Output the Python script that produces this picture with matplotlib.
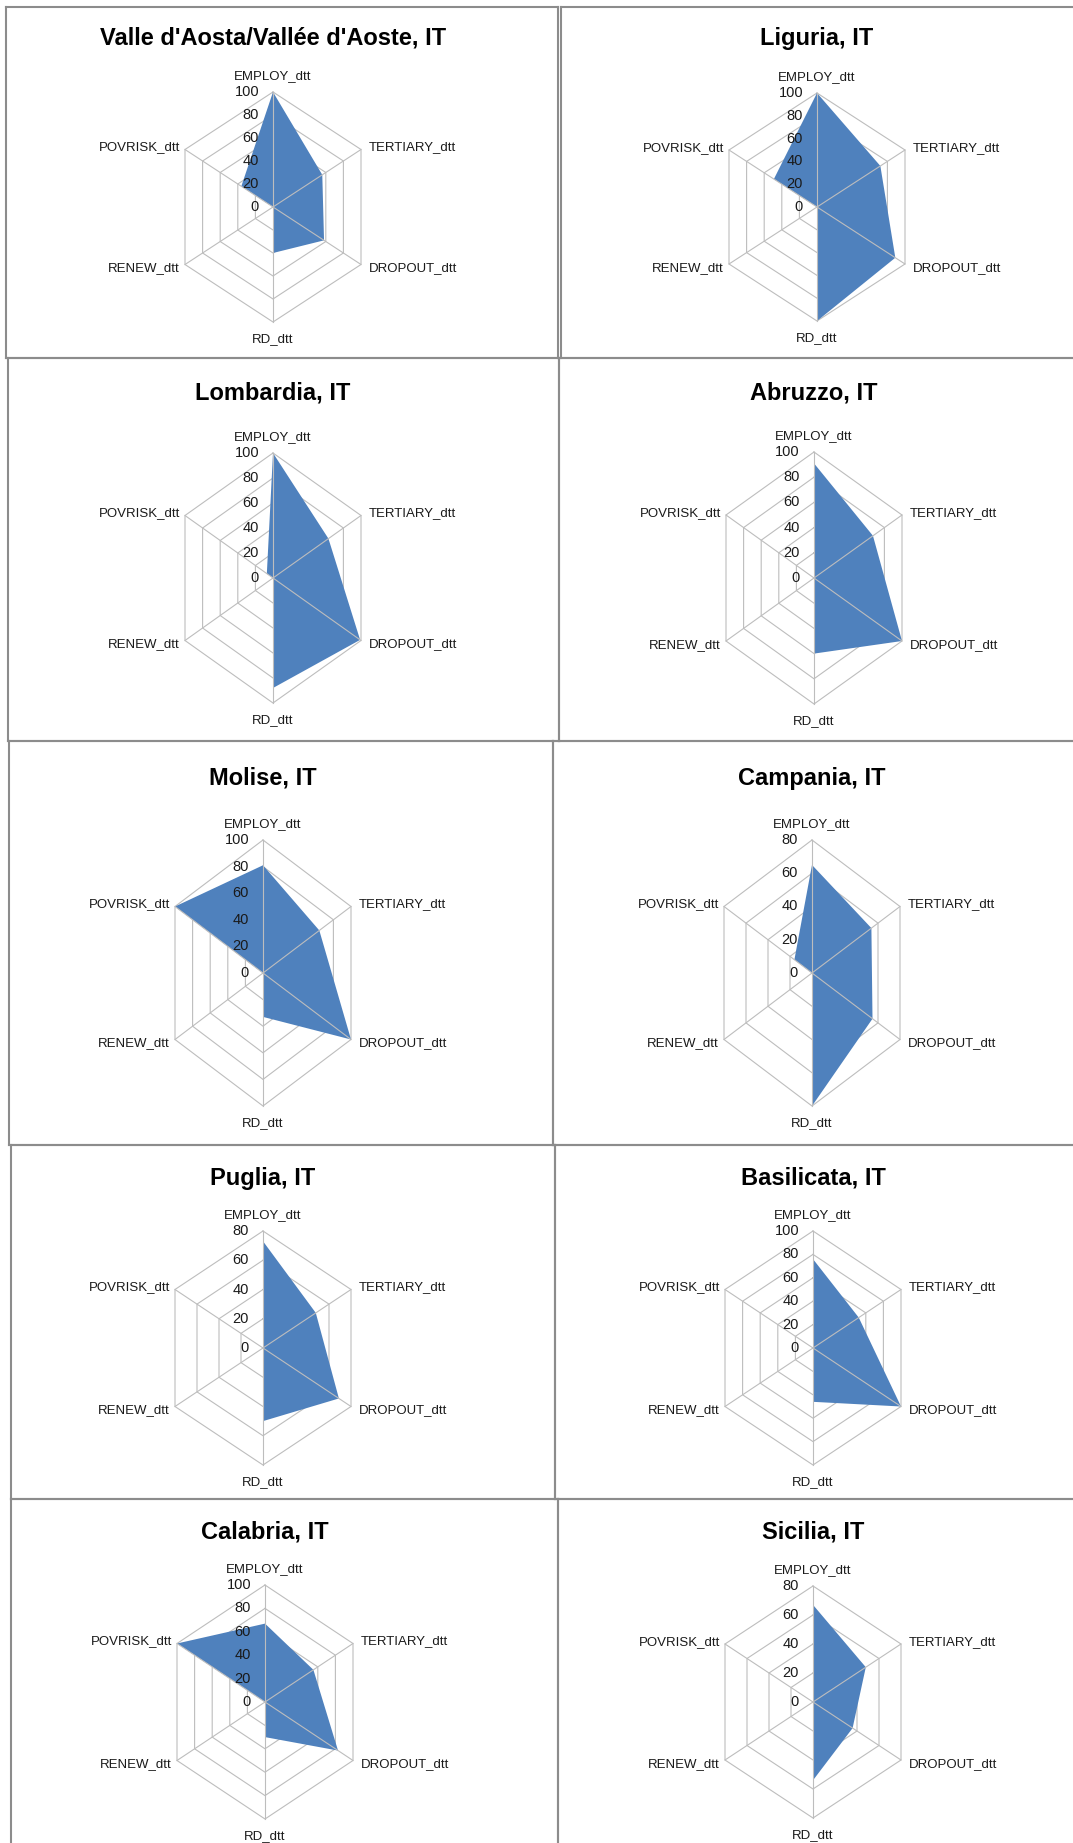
"""Radar charts of six regional indicators for ten Italian regions."""

import matplotlib.pyplot as plt
import numpy as np
from matplotlib import font_manager

W, H = 1073, 1843

installed = {f.name for f in font_manager.fontManager.ttflist}
if "Liberation Sans Narrow" in installed:
    FONT, LABEL_SIZE, TITLE_SIZE = "Liberation Sans Narrow", 11, 19
else:
    FONT, LABEL_SIZE, TITLE_SIZE = "Liberation Sans", 9.5, 17
plt.rcParams["font.family"] = [FONT, "DejaVu Sans"]

categories = ["EMPLOY_dtt", "TERTIARY_dtt", "DROPOUT_dtt", "RD_dtt", "RENEW_dtt", "POVRISK_dtt"]

regions = [
    "Valle d'Aosta/Vallée d'Aoste, IT", "Liguria, IT",
    "Lombardia, IT", "Abruzzo, IT",
    "Molise, IT", "Campania, IT",
    "Puglia, IT", "Basilicata, IT",
    "Calabria, IT", "Sicilia, IT",
]
axis_max = [100, 100, 100, 100, 100, 80, 80, 100, 100, 80]

valle_daosta = [100, 56, 58, 40, 0, 36]
liguria = [100, 72, 89, 100, 0, 49]
lombardia = [100, 63, 99, 88, 0, 7]
abruzzo = [91, 67, 100, 60, 0, 0]
molise = [81, 64, 100, 33, 0, 100]
campania = [65, 54, 55, 80, 0, 16]
puglia = [73, 48, 69, 50, 0, 0]
basilicata = [76, 52, 100, 46, 0, 0]
calabria = [67, 55, 83, 30, 0, 100]
sicilia = [67, 48, 36, 54, 0, 0]

series = [valle_daosta, liguria, lombardia, abruzzo, molise,
          campania, puglia, basilicata, calabria, sicilia]

# layout, in pixels of the final image (x0, y0 from the top left)
panel_boxes = [
    (6, 7, 558, 358), (561, 7, 1085, 358),
    (8, 358, 559, 741), (559, 358, 1085, 741),
    (9, 741, 553, 1145), (553, 741, 1085, 1145),
    (11, 1145, 555, 1499), (555, 1145, 1085, 1499),
    (11, 1499, 558, 1850), (558, 1499, 1085, 1850),
]
centers = [
    (273, 207), (817, 207),
    (273, 578), (814, 578),
    (263, 973), (812, 973),
    (263, 1348), (813, 1348),
    (265, 1702), (813, 1702),
]
radius_v = [115, 114, 125, 126, 133, 133, 117, 117, 117, 116]
title_y = [38, 38, 393, 393, 778, 778, 1178, 1178, 1532, 1532]
SIDE_DX = 88
RH = SIDE_DX / np.cos(np.pi / 6)

BLUE = "#4f81bd"
GRID = "#bdbdbd"
FRAME = "#8c8c8c"
TEXT = "#1a1a1a"

angles = np.arange(len(categories)) * 2 * np.pi / len(categories)

# label offsets in pixels and alignment for each spoke
label_pos = [
    ((0, 16), "center"), ((8, 2), "left"), ((8, -4), "left"),
    ((0, -17), "center"), ((-5, -4), "right"), ((-5, 2), "right"),
]


def hex_xy(r):
    r = np.asarray(r, dtype=float)
    return r * np.sin(angles), r * np.cos(angles)


fig = plt.figure(figsize=(W / 100, H / 100), dpi=100)

for i, region in enumerate(regions):
    x0, y0, x1, y1 = panel_boxes[i]
    cx, cy = centers[i]
    rv = radius_v[i]
    ax = fig.add_axes([x0 / W, 1 - y1 / H, (x1 - x0) / W, (y1 - y0) / H])
    ax.set_facecolor("none")
    ax.set_xlim((x0 - cx) / RH, (x1 - cx) / RH)
    ax.set_ylim((cy - y1) / rv, (cy - y0) / rv)
    ax.set_xticks([])
    ax.set_yticks([])
    for s in ax.spines.values():
        s.set_color(FRAME)
        s.set_linewidth(1.5)

    vmax = axis_max[i]
    levels = np.arange(0, vmax + 1, 20)

    for lv in levels[1:]:
        xs, ys = hex_xy(np.full(len(categories), lv / vmax))
        ax.plot(np.append(xs, xs[0]), np.append(ys, ys[0]), color=GRID, lw=0.8, zorder=1)

    xs, ys = hex_xy(np.array(series[i]) / vmax)
    ax.fill(xs, ys, color=BLUE, lw=0, zorder=2)

    for a in angles:
        ax.plot([0, np.sin(a)], [0, np.cos(a)], color=GRID, lw=0.8, zorder=3)

    for lv in levels:
        ax.annotate(str(lv), xy=(0, lv / vmax), xytext=(-14, 0), textcoords="offset pixels",
                    ha="right", va="center", fontsize=LABEL_SIZE + 1, color=TEXT, zorder=4)

    for k, name in enumerate(categories):
        (dx, dy), ha = label_pos[k]
        ax.annotate(name, xy=(np.sin(angles[k]), np.cos(angles[k])), xytext=(dx, dy),
                    textcoords="offset pixels", ha=ha, va="center", fontsize=LABEL_SIZE,
                    color=TEXT)

    ax.text(0, (cy - title_y[i]) / rv, region, ha="center", va="center",
            fontsize=TITLE_SIZE, fontweight="bold", color="black")

fig.savefig("out.png", dpi=100)
